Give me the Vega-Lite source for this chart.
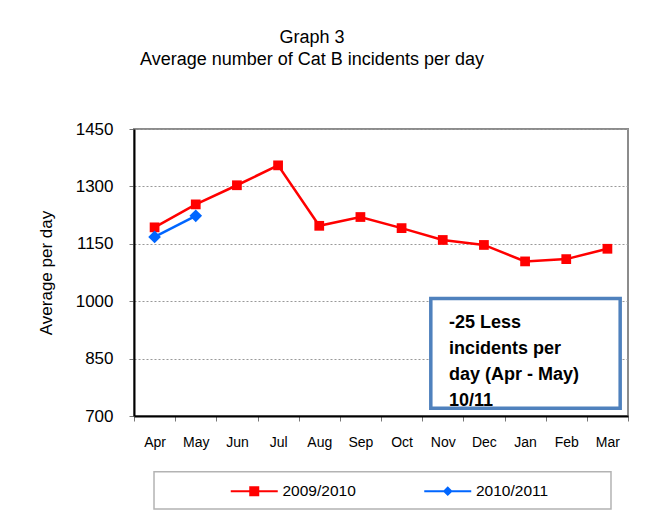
{
  "$schema": "https://vega.github.io/schema/vega-lite/v6.json",
  "width": 494,
  "height": 287,
  "autosize": {"type": "none"},
  "padding": {"left": 134, "top": 129, "right": 25, "bottom": 101},
  "background": "white",
  "config": {"font": "Liberation Sans", "view": {"stroke": "#8c8c8c", "strokeWidth": 2}},
  "title": {
    "text": ["Graph 3", "Average number of Cat B incidents per day"],
    "fontSize": 18, "fontWeight": "normal", "font": "Liberation Sans", "color": "black",
    "anchor": "middle", "dx": -69, "offset": 51, "lineHeight": 22
  },
  "datasets": {
    "series": [
      {"month": "Apr", "series": "2009/2010", "value": 1193},
      {"month": "May", "series": "2009/2010", "value": 1253},
      {"month": "Jun", "series": "2009/2010", "value": 1303},
      {"month": "Jul", "series": "2009/2010", "value": 1355},
      {"month": "Aug", "series": "2009/2010", "value": 1197},
      {"month": "Sep", "series": "2009/2010", "value": 1220},
      {"month": "Oct", "series": "2009/2010", "value": 1191},
      {"month": "Nov", "series": "2009/2010", "value": 1160},
      {"month": "Dec", "series": "2009/2010", "value": 1147},
      {"month": "Jan", "series": "2009/2010", "value": 1104},
      {"month": "Feb", "series": "2009/2010", "value": 1110},
      {"month": "Mar", "series": "2009/2010", "value": 1137},
      {"month": "Apr", "series": "2010/2011", "value": 1168},
      {"month": "May", "series": "2010/2011", "value": 1223}
    ],
    "note": [{"note": "-25 Less\nincidents per\nday (Apr - May)\n10/11"}]
  },
  "data": {"name": "series"},
  "layer": [
    {
      "data": {"name": "note"},
      "mark": {"type": "rect", "fill": "white", "stroke": "#b3b3b3", "strokeWidth": 1.5, "clip": false},
      "encoding": {
        "x": {"datum": 0.486, "type": "quantitative", "scale": {"domain": [0, 12], "nice": false, "zero": false}, "axis": null},
        "x2": {"datum": 11.587},
        "y": {"datum": 554, "type": "quantitative"},
        "y2": {"datum": 457}
      }
    },
    {
      "mark": {"type": "line", "strokeWidth": 2.5},
      "encoding": {
        "x": {
          "field": "month", "type": "ordinal",
          "sort": ["Apr","May","Jun","Jul","Aug","Sep","Oct","Nov","Dec","Jan","Feb","Mar"],
          "scale": {"type": "band", "paddingInner": 0, "paddingOuter": 0},
          "axis": {
            "title": null, "labelAngle": 0, "labelFontSize": 14, "labelColor": "black",
            "tickBand": "extent", "tickColor": "#777", "tickSize": 5,
            "domainColor": "black", "domainWidth": 2, "labelPadding": 14, "grid": false
          }
        },
        "y": {
          "field": "value", "type": "quantitative",
          "scale": {"domain": [700, 1450], "nice": false, "zero": false},
          "axis": {
            "values": [700, 850, 1000, 1150, 1300, 1450], "format": "d",
            "labelFontSize": 17, "labelColor": "black", "labelPadding": 16,
            "grid": true, "gridDash": [2, 2], "gridColor": "#999",
            "domainColor": "black", "domainWidth": 2, "tickColor": "#777", "tickSize": 5,
            "title": "Average per day", "titleFontSize": 17, "titleFontWeight": "normal",
            "titleColor": "black", "titlePadding": 20
          }
        },
        "color": {
          "field": "series", "type": "nominal",
          "scale": {"domain": ["2009/2010", "2010/2011"], "range": ["#ff0000", "#0066ff"]},
          "legend": {
            "title": null, "orient": "none", "legendX": 20, "legendY": 343,
            "direction": "horizontal", "padding": 11,
            "labelFontSize": 15.5, "labelColor": "black", "labelOffset": 20.5, "columnPadding": 2.5,
            "symbolSize": 100, "symbolOffset": 81.5, "symbolStrokeWidth": 2,
            "symbolType": "M-4.7,0H4.7M-0.8,-0.8H0.8V0.8H-0.8Z",
            "encode": {
              "symbols": {
                "update": {
                  "shape": {"signal": "datum.value === '2009/2010' ? 'M-4.7,0H4.7M-0.8,-0.8H0.8V0.8H-0.8Z' : 'M-4.7,0H4.7M0,-0.7L0.7,0L0,0.7L-0.7,0Z'"},
                  "fill": {"signal": "datum.value === '2009/2010' ? '#ff0000' : '#0066ff'"},
                  "stroke": {"signal": "datum.value === '2009/2010' ? '#ff0000' : '#0066ff'"},
                  "strokeWidth": {"value": 2},
                  "opacity": {"value": 1}
                }
              }
            }
          }
        }
      }
    },
    {
      "mark": {"type": "point", "filled": true, "opacity": 1},
      "encoding": {
        "x": {
          "field": "month", "type": "ordinal",
          "sort": ["Apr","May","Jun","Jul","Aug","Sep","Oct","Nov","Dec","Jan","Feb","Mar"],
          "scale": {"type": "band", "paddingInner": 0, "paddingOuter": 0},
          "axis": null
        },
        "y": {"field": "value", "type": "quantitative"},
        "color": {"field": "series", "type": "nominal"},
        "shape": {"condition": {"test": "datum.series === '2009/2010'", "value": "square"}, "value": "diamond"},
        "size": {"condition": {"test": "datum.series === '2009/2010'", "value": 95}, "value": 160}
      }
    },
    {
      "data": {"name": "note"},
      "mark": {"type": "rect", "fill": "white", "stroke": "#4f81bd", "strokeWidth": 3.5},
      "encoding": {
        "x": {"datum": 7.21, "type": "quantitative", "scale": {"domain": [0, 12], "nice": false, "zero": false}, "axis": null},
        "x2": {"datum": 11.81},
        "y": {"datum": 1007, "type": "quantitative"},
        "y2": {"datum": 720}
      }
    },
    {
      "data": {"name": "note"},
      "mark": {
        "type": "text", "align": "left", "baseline": "alphabetic", "font": "Liberation Sans",
        "fontWeight": "bold", "fontSize": 18, "lineHeight": 26.3, "lineBreak": "\n", "color": "black"
      },
      "encoding": {
        "x": {"datum": 7.65, "type": "quantitative", "scale": {"domain": [0, 12], "nice": false, "zero": false}, "axis": null},
        "y": {"datum": 931, "type": "quantitative"},
        "text": {"field": "note", "type": "nominal"}
      }
    }
  ],
  "resolve": {"scale": {"x": "independent"}}
}
